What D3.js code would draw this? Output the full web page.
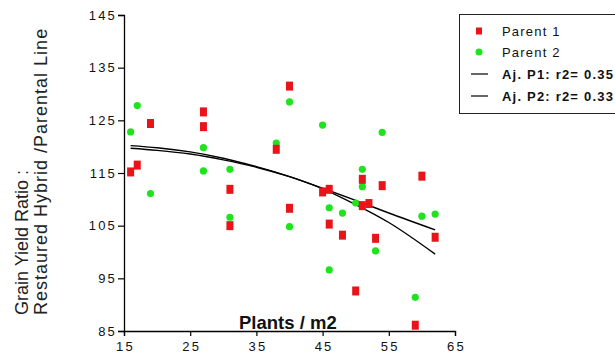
<!DOCTYPE html>
<html>
<head>
<meta charset="utf-8">
<script src="https://cdn.jsdelivr.net/npm/d3@7/dist/d3.min.js"></script>
<style>
  body { margin: 0; background: #fff; font-family: Arial, "Liberation Sans", sans-serif; }
  svg { display: block; }
</style>
</head>
<body>
<div id="draw"></div>
<script>
// parent 1 points (plants/m2, ratio)
var p1X = [16, 17, 19, 27, 27, 31, 31, 38, 40, 40, 45, 46, 46, 48, 50, 51, 51, 52, 53, 54, 59, 60, 62];
var p1Y = [115.2, 116.5, 124.4, 126.6, 123.8, 111.9, 105.0, 119.5, 131.5, 108.3, 111.4, 111.9, 105.3, 103.2, 92.6, 108.8, 113.8, 109.2, 102.6, 112.6, 86.1, 114.4, 102.8];
// parent 2 points
var p2X = [16, 17, 19, 27, 27, 31, 31, 38, 40, 40, 45, 46, 46, 48, 50, 51, 51, 53, 54, 59, 60, 62];
var p2Y = [122.8, 127.8, 111.1, 119.8, 115.4, 115.7, 106.6, 120.7, 128.5, 104.8, 124.1, 108.4, 96.6, 107.4, 109.3, 115.7, 112.4, 100.2, 122.7, 91.4, 106.8, 107.2];
// fitted curves
var fitX = [16, 20, 25, 30, 35, 40, 45, 50, 55, 62];
var fit1Y = [120.2, 119.8, 119.0, 117.8, 116.2, 114.3, 112.0, 109.0, 105.6, 99.6];
var fit2Y = [119.7, 119.3, 118.6, 117.5, 116.1, 114.3, 112.1, 109.8, 107.4, 104.2];

var xTicks = [15, 25, 35, 45, 55, 65];
var yTicks = [85, 95, 105, 115, 125, 135, 145];
var legendLabels = ["Parent 1", "Parent 2", "Aj. P1: r2= 0.35", "Aj. P2: r2= 0.33"];

var W = 615, H = 356;
var svg = d3.select('#draw').append('svg').attr('width', W).attr('height', H);

var x = d3.scaleLinear().domain([15, 65]).range([124, 455]);
var y = d3.scaleLinear().domain([85, 145]).range([331, 15]);

// minor ticks every 2.5
var minor = d3.range(15, 65.01, 2.5);
var minorY = d3.range(85, 145.01, 2.5);

var xAx = svg.append('g').attr('transform', 'translate(0,331)');
xAx.call(d3.axisBottom(x).tickValues(minor).tickSize(3).tickFormat(''));
xAx.call(d3.axisBottom(x).tickValues(xTicks).tickSize(5).tickFormat(d3.format('d')));
var yAx = svg.append('g').attr('transform', 'translate(124,0)');
yAx.call(d3.axisLeft(y).tickValues(minorY).tickSize(3).tickFormat(''));
yAx.call(d3.axisLeft(y).tickValues(yTicks).tickSize(6).tickFormat(d3.format('d')));

svg.selectAll('.domain').attr('stroke', '#000').attr('stroke-width', 1.3);
svg.selectAll('.tick line').attr('stroke', '#000').attr('stroke-width', 1.2);
svg.selectAll('.tick text').attr('font-size', 13).attr('letter-spacing', 2.2)
  .attr('font-family', 'Arial, "Liberation Sans", sans-serif').attr('fill', '#111');
xAx.selectAll('.tick text').attr('dy', '0.95em').attr('dx', 1);
yAx.selectAll('.tick text').attr('dx', 2);

// fit lines
var line = d3.line().curve(d3.curveMonotoneX);
[fit1Y, fit2Y].forEach(function(fy) {
  svg.append('path')
    .attr('d', line(fitX.map(function(v, i) { return [x(v), y(fy[i])]; })))
    .attr('fill', 'none').attr('stroke', '#000').attr('stroke-width', 1.4);
});

// parent 2 (green)
svg.append('g').selectAll('circle').data(p2X).join('circle')
  .attr('cx', function(d) { return x(d); })
  .attr('cy', function(d, i) { return y(p2Y[i]); })
  .attr('r', 3.6).attr('fill', '#1ee41e');

// parent 1 (red)
svg.append('g').selectAll('rect').data(p1X).join('rect')
  .attr('x', function(d) { return x(d) - 3.5; })
  .attr('y', function(d, i) { return y(p1Y[i]) - 4.5; })
  .attr('width', 7).attr('height', 9).attr('fill', '#e8141a');

// axis titles
svg.append('text').attr('x', 239).attr('y', 329)
  .attr('font-size', 18.5).attr('font-weight', 'bold').attr('fill', '#111')
  .text('Plants / m2');
var yt = svg.append('text').attr('transform', 'translate(28,315) rotate(-90)')
  .attr('font-size', 18).attr('fill', '#222');
yt.append('tspan').attr('x', 0).attr('y', 0).text('Grain Yield Ratio :');
yt.append('tspan').attr('x', 0).attr('y', 19).attr('letter-spacing', 1).text('Restaured Hybrid /Parental Line');

// legend
var lg = svg.append('g');
lg.append('rect').attr('x', 459.5).attr('y', 14.5).attr('width', 170).attr('height', 99)
  .attr('fill', '#fff').attr('stroke', '#222').attr('stroke-width', 1);
var ly = [31, 52, 74, 96];
lg.append('rect').attr('x', 476).attr('y', ly[0] - 3.5).attr('width', 6).attr('height', 7).attr('fill', '#e8141a');
lg.append('circle').attr('cx', 479).attr('cy', ly[1]).attr('r', 3.5).attr('fill', '#1ee41e');
[2, 3].forEach(function(i) {
  lg.append('line').attr('x1', 471).attr('x2', 488).attr('y1', ly[i]).attr('y2', ly[i])
    .attr('stroke', '#000').attr('stroke-width', 1.2);
});
lg.selectAll('text.lab').data(legendLabels).join('text').attr('class', 'lab')
  .attr('x', 502).attr('y', function(d, i) { return ly[i] + 4.5; })
  .attr('font-size', 13).attr('letter-spacing', 1.2)
  .attr('font-weight', function(d, i) { return i > 1 ? 'bold' : 'normal'; })
  .attr('fill', '#111')
  .text(function(d) { return d; });
</script>
</body>
</html>
